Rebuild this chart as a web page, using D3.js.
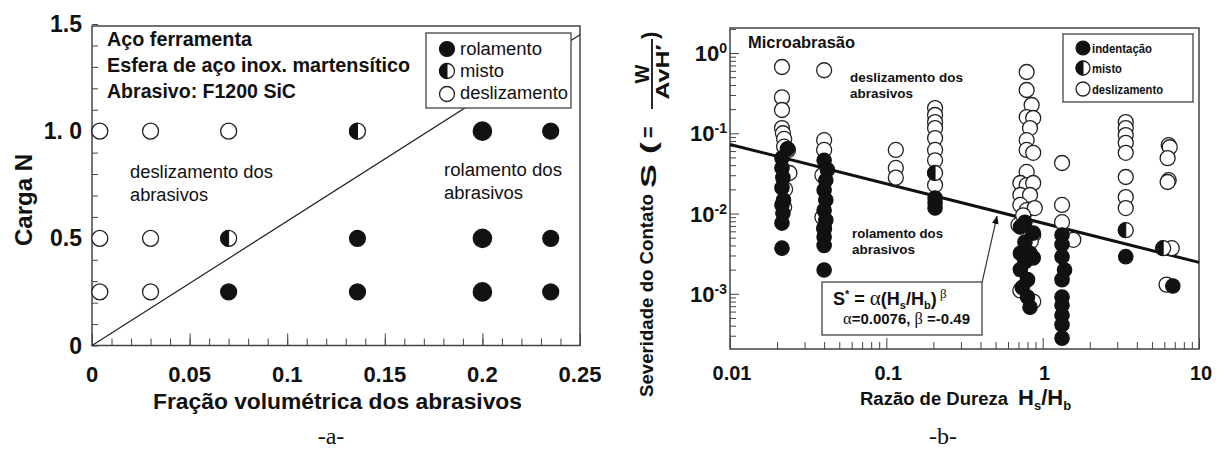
<!DOCTYPE html>
<html><head><meta charset="utf-8">
<script src="https://cdn.jsdelivr.net/npm/d3@7"></script>
<style>
body{margin:0;background:#fff;}
svg text{font-family:"Liberation Sans",Arial,Helvetica,sans-serif;fill:#111;}
</style></head><body>
<svg id="c" width="1227" height="450"></svg>
<script>
// ---------------- Panel a data ----------------
const aXTicks = [0, 0.05, 0.1, 0.15, 0.2, 0.25];
const aXTickLabels = ["0", "0.05", "0.1", "0.15", "0.2", "0.25"];
const aYTicks = [0, 0.5, 1.0, 1.5];
const aYTickLabels = ["0", "0.5", "1. 0", "1.5"];
const aSliding = [[0.004,1.0],[0.03,1.0],[0.07,1.0],[0.004,0.5],[0.03,0.5],[0.004,0.25],[0.03,0.25]];
const aMixed = [[0.136,1.0],[0.07,0.5]];
const aRolling = [[0.2,1.0],[0.235,1.0],[0.136,0.5],[0.2,0.5],[0.235,0.5],[0.07,0.25],[0.136,0.25],[0.2,0.25],[0.235,0.25]];
const aBoundary = [[0,0],[0.25,1.45]];

// ---------------- Panel b data ----------------
const bXTicks = [0.01, 0.1, 1, 10];
const bXTickLabels = ["0.01", "0.1", "1", "10"];
const bYTicks = [1e-3, 1e-2, 1e-1, 1];
const bYTickExp = ["-3", "-2", "-1", "0"];
const bSliding = [
  [0.0215,0.67],[0.0215,0.28],[0.0215,0.195],[0.0215,0.116],[0.0218,0.10],[0.0222,0.085],[0.0222,0.068],[0.0235,0.062],[0.024,0.032],[0.0225,0.02],[0.0222,0.012],
  [0.040,0.61],[0.040,0.082],[0.040,0.062],[0.039,0.03],[0.039,0.009],[0.040,0.0065],
  [0.115,0.062],[0.115,0.037],[0.115,0.028],
  [0.205,0.206],[0.205,0.169],[0.205,0.138],[0.205,0.116],[0.205,0.087],[0.205,0.062],[0.205,0.046],[0.205,0.0226],
  [0.79,0.58],[0.79,0.346],[0.85,0.225],[0.79,0.159],[0.87,0.155],[0.83,0.116],[0.79,0.082],[0.79,0.062],[0.87,0.057],[0.79,0.033],[0.72,0.024],[0.79,0.0226],[0.87,0.024],[0.72,0.017],[0.83,0.017],[0.72,0.0128],[0.79,0.011],[0.89,0.0117],[0.70,0.0072],[0.87,0.0054],[0.75,0.0095],[0.84,0.0045],[0.72,0.0011],[0.87,0.0008],
  [1.33,0.0426],[1.33,0.0128],[1.33,0.0078],[1.57,0.0047],
  [3.4,0.138],[3.4,0.116],[3.4,0.095],[3.4,0.076],[3.4,0.057],[3.4,0.0285],[3.4,0.016],[3.4,0.0117],
  [6.4,0.071],[6.5,0.067],[6.3,0.049],[6.4,0.026],[6.3,0.0247],[6.7,0.0037],[6.2,0.0013]
];
const bMixed = [[0.205,0.032],[3.4,0.0062],[5.9,0.0037]];
const bIndent = [
  [0.0233,0.064],[0.0215,0.049],[0.0215,0.037],[0.0218,0.028],[0.0215,0.021],[0.022,0.0147],[0.0215,0.0128],[0.0218,0.0101],[0.0215,0.0076],[0.0215,0.0037],
  [0.040,0.046],[0.042,0.035],[0.041,0.026],[0.040,0.0196],[0.041,0.0147],[0.040,0.011],[0.041,0.0083],[0.040,0.0066],[0.040,0.0051],[0.040,0.0040],[0.040,0.00198],
  [0.205,0.0156],[0.205,0.0135],[0.205,0.0117],
  [0.77,0.0078],[0.72,0.0068],[0.87,0.0057],[0.77,0.0044],[0.72,0.0032],[0.83,0.0032],[0.77,0.0025],[0.87,0.0028],[0.72,0.002],[0.80,0.0015],[0.74,0.0012],[0.80,0.00091],[0.83,0.00068],
  [1.33,0.0054],[1.33,0.0041],[1.33,0.0029],[1.38,0.00198],[1.33,0.0015],[1.33,0.00091],[1.33,0.00072],[1.33,0.00054],[1.33,0.00041],[1.33,0.00028],
  [3.4,0.0029],
  [6.8,0.00125]
];
const bFit = [[0.01,0.0726],[10,0.00246]];
const bArrow = [[0.41,0.0014],[0.51,0.0092]];

// ---------------- drawing ----------------
const svg = d3.select("#c");
const INK = "#111";

function marker(g, cx, cy, r, type) {
  if (type === "filled") {
    g.append("circle").attr("cx",cx).attr("cy",cy).attr("r",r).attr("fill",INK).attr("stroke",INK).attr("stroke-width",1.2);
  } else {
    g.append("circle").attr("cx",cx).attr("cy",cy).attr("r",r).attr("fill","#fff").attr("stroke","#222").attr("stroke-width",1.3);
    if (type === "mixed") {
      g.append("path").attr("d",`M${cx},${cy-r} A${r},${r} 0 0 0 ${cx},${cy+r} Z`).attr("fill",INK).attr("stroke",INK).attr("stroke-width",1);
    }
  }
}
function txt(g, x, y, s, size, weight, len, anchor) {
  const t = g.append("text").attr("x",x).attr("y",y).style("font-size",size+"px").style("font-weight",weight||"normal").text(s);
  if (len) t.attr("textLength",len).attr("lengthAdjust","spacingAndGlyphs");
  if (anchor) t.attr("text-anchor",anchor);
  return t;
}

// ===== Panel a =====
const xA = d3.scaleLinear().domain([0,0.25]).range([92,580]);
const yA = d3.scaleLinear().domain([0,1.5]).range([345.5,24]);
const gA = svg.append("g");

// ticks (inward)
gA.append("g").attr("transform",`translate(0,${yA(0)})`)
  .call(d3.axisBottom(xA).tickValues(d3.range(0,0.2501,0.01)).tickSize(-7).tickFormat(""))
  .call(g=>g.select(".domain").remove()).selectAll("line").attr("stroke","#444");
gA.append("g").attr("transform",`translate(0,${yA(0)})`)
  .call(d3.axisBottom(xA).tickValues(aXTicks).tickSize(-12).tickFormat(""))
  .call(g=>g.select(".domain").remove()).selectAll("line").attr("stroke","#444");
gA.append("g").attr("transform",`translate(${xA(0)},0)`)
  .call(d3.axisLeft(yA).tickValues(d3.range(0,1.501,0.1)).tickSize(-6).tickFormat(""))
  .call(g=>g.select(".domain").remove()).selectAll("line").attr("stroke","#444");

// frame
gA.append("rect").attr("x",xA(0)).attr("y",26).attr("width",xA(0.25)-xA(0)).attr("height",yA(0)-26)
  .attr("fill","none").attr("stroke","#444").attr("stroke-width",1.5);

// tick labels
aXTicks.forEach((v,i)=>txt(gA, xA(v), 382, aXTickLabels[i], 22, "bold", null, "middle"));
aYTicks.forEach((v,i)=>txt(gA, 82, yA(v)+8, aYTickLabels[i], 23, "bold", null, "end"));

// boundary line
gA.append("line").attr("x1",xA(aBoundary[0][0])).attr("y1",yA(aBoundary[0][1]))
  .attr("x2",xA(aBoundary[1][0])).attr("y2",yA(aBoundary[1][1])).attr("stroke","#222").attr("stroke-width",1.2);

// points
const rA = d => d[0] === 0.2 ? 9.2 : 8;
aSliding.forEach(d=>marker(gA, xA(d[0]), yA(d[1]), rA(d), "open"));
aMixed.forEach(d=>marker(gA, xA(d[0]), yA(d[1]), rA(d), "mixed"));
aRolling.forEach(d=>marker(gA, xA(d[0]), yA(d[1]), rA(d), "filled"));

// legend a
gA.append("rect").attr("x",426).attr("y",33).attr("width",145).attr("height",75).attr("fill","#fff").attr("stroke","#444").attr("stroke-width",1.3);
marker(gA, 447, 49, 7.5, "filled"); txt(gA, 460, 55, "rolamento", 18, "normal", 82);
marker(gA, 447, 71, 7.5, "mixed"); txt(gA, 460, 77, "misto", 18, "normal", 44);
marker(gA, 447, 94, 7.5, "open"); txt(gA, 460, 99, "deslizamento", 18, "normal", 108);

// annotations a
txt(gA, 107, 46, "Aço ferramenta", 20, "bold", 145);
txt(gA, 107, 72, "Esfera de aço inox. martensítico", 20, "bold", 303);
txt(gA, 107, 98, "Abrasivo: F1200 SiC", 20, "bold", 189);
txt(gA, 130, 178, "deslizamento dos", 18, "normal", 143);
txt(gA, 130, 201, "abrasivos", 18, "normal", 78);
txt(gA, 444, 176, "rolamento dos", 18, "normal", 118);
txt(gA, 444, 199, "abrasivos", 18, "normal", 79);

// axis titles a
txt(gA, 153, 409, "Fração volumétrica dos abrasivos", 22, "bold", 369);
gA.append("text").attr("transform","translate(32,200) rotate(-90)").attr("text-anchor","middle")
  .style("font-size","24px").style("font-weight","bold").text("Carga N");
gA.append("text").attr("x",331).attr("y",444).attr("text-anchor","middle")
  .style("font-family","'Liberation Serif','Times New Roman',serif").style("font-size","24px").text("-a-");

// ===== Panel b =====
const xB = d3.scaleLog().domain([0.01,10]).range([730,1199]);
const yB = d3.scaleLog().domain([2.05e-4,2.05]).range([349,28]);
const gB = svg.append("g");

const isMajor = v => Math.abs(Math.log10(v) - Math.round(Math.log10(v))) < 1e-6;
const xMinor = xB.ticks().filter(v=>!isMajor(v));
const yMinor = yB.ticks().filter(v=>!isMajor(v));
gB.append("g").attr("transform",`translate(0,${yB.range()[0]})`)
  .call(d3.axisBottom(xB).tickValues(xMinor).tickSize(-7).tickFormat(""))
  .call(g=>g.select(".domain").remove()).selectAll("line").attr("stroke","#444");
gB.append("g").attr("transform",`translate(0,${yB.range()[0]})`)
  .call(d3.axisBottom(xB).tickValues(bXTicks).tickSize(-11).tickFormat(""))
  .call(g=>g.select(".domain").remove()).selectAll("line").attr("stroke","#444");
gB.append("g").attr("transform",`translate(${xB.range()[0]},0)`)
  .call(d3.axisLeft(yB).tickValues(yMinor).tickSize(-6).tickFormat(""))
  .call(g=>g.select(".domain").remove()).selectAll("line").attr("stroke","#444");
gB.append("g").attr("transform",`translate(${xB.range()[0]},0)`)
  .call(d3.axisLeft(yB).tickValues(bYTicks).tickSize(-9).tickFormat(""))
  .call(g=>g.select(".domain").remove()).selectAll("line").attr("stroke","#444");

gB.append("rect").attr("x",730).attr("y",28).attr("width",469).attr("height",321)
  .attr("fill","none").attr("stroke","#444").attr("stroke-width",1.5);

bXTicks.forEach((v,i)=>txt(gB, xB(v)+2, 380, bXTickLabels[i], 20, "bold", null, "middle"));
bYTicks.forEach((v,i)=>{
  const t = gB.append("text").attr("x",727).attr("y",yB(v)+8).attr("text-anchor","end")
    .style("font-size","22px").style("font-weight","bold");
  t.append("tspan").text("10");
  t.append("tspan").attr("dy",-8).style("font-size","14px").text(bYTickExp[i] === "0" ? "0" : "-" + bYTickExp[i].slice(1));
});

// fit line
gB.append("line").attr("x1",xB(bFit[0][0])).attr("y1",yB(bFit[0][1]))
  .attr("x2",xB(bFit[1][0])).attr("y2",yB(bFit[1][1])).attr("stroke",INK).attr("stroke-width",3);

// points
const rB = 7.5;
bSliding.forEach(d=>marker(gB, xB(d[0]), yB(d[1]), rB, "open"));
bMixed.forEach(d=>marker(gB, xB(d[0]), yB(d[1]), rB, "mixed"));
bIndent.forEach(d=>marker(gB, xB(d[0]), yB(d[1]), rB-0.3, "filled"));

// legend b
gB.append("rect").attr("x",1063).attr("y",34).attr("width",130).attr("height",68).attr("fill","#fff").attr("stroke","#444").attr("stroke-width",1.3);
marker(gB, 1083, 48, 7, "filled"); txt(gB, 1092, 53, "indentação", 12.5, "bold", 60);
marker(gB, 1083, 68, 7, "mixed"); txt(gB, 1092, 73, "misto", 12.5, "bold", 30);
marker(gB, 1083, 89, 7, "open"); txt(gB, 1092, 94, "deslizamento", 12.5, "bold", 71);

// annotations b
txt(gB, 748, 48, "Microabrasão", 16, "bold", 107);
txt(gB, 850, 82, "deslizamento dos", 13.5, "bold", 113);
txt(gB, 850, 98, "abrasivos", 13.5, "bold", 63);
txt(gB, 852, 238, "rolamento dos", 13.5, "bold", 91);
txt(gB, 852, 254, "abrasivos", 13.5, "bold", 63);

// arrow
const defs = svg.append("defs");
defs.append("marker").attr("id","ah").attr("viewBox","0 0 10 10").attr("refX",9).attr("refY",5)
  .attr("markerWidth",7).attr("markerHeight",7).attr("orient","auto-start-reverse")
  .append("path").attr("d","M0,1 L10,5 L0,9 Z").attr("fill",INK);
gB.append("line").attr("x1",xB(bArrow[0][0])).attr("y1",yB(bArrow[0][1]))
  .attr("x2",xB(bArrow[1][0])).attr("y2",yB(bArrow[1][1])).attr("stroke","#333").attr("stroke-width",1.2).attr("marker-end","url(#ah)");

// equation box
gB.append("rect").attr("x",822).attr("y",282).attr("width",160).attr("height",53).attr("fill","#fff").attr("stroke","#444").attr("stroke-width",1.3);
const serif = "'Liberation Serif','Times New Roman',serif";
{
  const t = gB.append("text").attr("x",833).attr("y",305).style("font-size","18px").style("font-weight","bold");
  t.append("tspan").text("S");
  t.append("tspan").attr("dy",-7).style("font-size","11px").text("*");
  t.append("tspan").attr("dy",7).text(" = ");
  t.append("tspan").style("font-family",serif).style("font-weight","normal").style("font-size","21px").text("α");
  t.append("tspan").text("(H");
  t.append("tspan").attr("dy",4).style("font-size","11px").text("s");
  t.append("tspan").attr("dy",-4).text("/H");
  t.append("tspan").attr("dy",4).style("font-size","11px").text("b");
  t.append("tspan").attr("dy",-4).text(")");
  gB.append("text").attr("x",940).attr("y",298).style("font-family",serif).style("font-size","13px").text("β");
  const t2 = gB.append("text").attr("x",843).attr("y",324).style("font-size","14.5px").style("font-weight","bold")
    .attr("textLength",127).attr("lengthAdjust","spacingAndGlyphs");
  t2.append("tspan").style("font-family",serif).style("font-weight","normal").style("font-size","16px").text("α");
  t2.append("tspan").text("=0.0076, ");
  t2.append("tspan").style("font-family",serif).style("font-weight","normal").style("font-size","16px").text("β");
  t2.append("tspan").text(" =-0.49");
}

// axis titles b
{
  txt(gB, 860, 405, "Razão de Dureza", 18, "bold", 148);
  const t = gB.append("text").attr("x",1018).attr("y",405).style("font-size","22px").style("font-weight","bold");
  t.append("tspan").text("H");
  t.append("tspan").attr("dy",5).style("font-size","13px").text("s");
  t.append("tspan").attr("dy",-5).text("/H");
  t.append("tspan").attr("dy",5).style("font-size","13px").text("b");

  const g = gB.append("g").attr("transform","translate(653,397) rotate(-90)");
  txt(g, 0, 0, "Severidade do Contato", 18, "bold", 203);
  txt(g, 209, 3, "S (", 22, "bold", 46);
  txt(g, 259, 2, "=", 20, "bold");
  g.append("line").attr("x1",288).attr("x2",358).attr("y1",-1).attr("y2",-1).attr("stroke",INK).attr("stroke-width",1.8);
  txt(g, 323, -4, "W", 20, "bold", null, "middle");
  txt(g, 325, 16, "AvH′", 19, "bold", 55, "middle");
  txt(g, 358, 4, ")", 22, "bold");

  gB.append("text").attr("x",943).attr("y",444).attr("text-anchor","middle")
    .style("font-family",serif).style("font-size","24px").text("-b-");
}
</script>
</body></html>
